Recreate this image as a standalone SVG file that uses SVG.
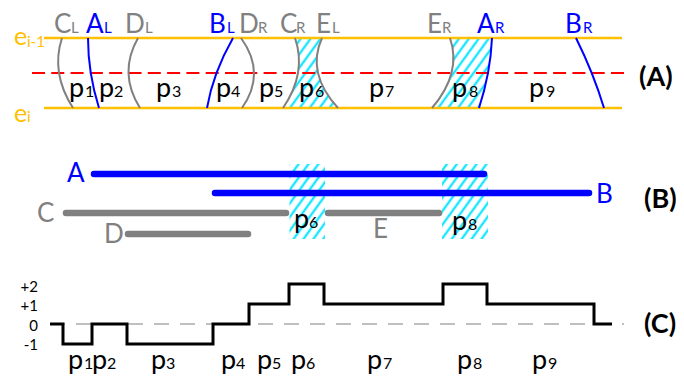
<svg xmlns="http://www.w3.org/2000/svg" width="684" height="377" viewBox="0 0 684 377">
<style>
text{font-family:Lato,"Liberation Sans",sans-serif}
.big{font-size:26px}
.sub{font-size:15px}
.ps{font-size:16px}
.p{font-size:27px;fill:#000}
.gt{fill:#808080}
.bt{fill:#0000FF}
.ot{fill:#FFC000}
.ax{font-size:15px;fill:#000;text-anchor:end}
.lab{font-size:27px;font-weight:bold;fill:#000}
.edge{stroke:#FFC000;stroke-width:2.5;fill:none}
.gc{stroke:#808080;stroke-width:2;fill:none}
.bc{stroke:#0000FF;stroke-width:2;fill:none}
.gb{stroke:#808080;stroke-width:6.5;stroke-linecap:round;fill:none}
.bb{stroke:#0000FF;stroke-width:6.5;stroke-linecap:round;fill:none}
</style>
<defs>
<pattern id="hatch" patternUnits="userSpaceOnUse" width="8" height="8" patternTransform="rotate(36)">
<line x1="2" y1="0" x2="2" y2="8" stroke="#1AE6FF" stroke-width="2.4"/>
</pattern>
</defs>

<g id="panelA">
<g id="hatchA">
<path d="M295,38 Q307,73 283,108 L338,108 Q306,73 322,38 Z" fill="url(#hatch)"/>
<path d="M450,38 Q462,73 432,108 L479,108 Q490.5,73 492,38 Z" fill="url(#hatch)"/>
</g>
<g id="edges">
<line class="edge" x1="44" y1="38" x2="622" y2="38"/>
<line class="edge" x1="44" y1="108" x2="622" y2="108"/>
<line x1="32" y1="73" x2="624" y2="73" stroke="#FF0000" stroke-width="2" stroke-dasharray="13 6.3"/>
<text x="14" y="45" class="ot" font-size="25">e<tspan x="27" dy="2" font-size="15">i-1</tspan></text>
<text x="14" y="122" class="ot" font-size="25">e<tspan x="27" font-size="15">i</tspan></text>
</g>
<g id="curves">
<path id="CL" class="gc" d="M62,38 Q50.5,73 73,108"/>
<path id="AL" class="bc" d="M88,38 Q88,73 99,108"/>
<path id="DL" class="gc" d="M138,38 Q118,73 140,108"/>
<path id="BL" class="bc" d="M233,38 Q213,73 207,108"/>
<path id="DR" class="gc" d="M241,38 Q266.5,73 242,108"/>
<path id="CR" class="gc" d="M295,38 Q307,73 283,108"/>
<path id="EL" class="gc" d="M322,38 Q306,73 338,108"/>
<path id="ER" class="gc" d="M450,38 Q462,73 432,108"/>
<path id="AR" class="bc" d="M492,38 Q490.5,73 479,108"/>
<path id="BR" class="bc" d="M576,38 Q593.4,73 604,108"/>
</g>
<g id="curveLabels" class="big">
<text x="54" y="33" class="gt">C<tspan x="71" class="sub">L</tspan></text>
<text x="86" y="33" class="bt">A<tspan x="104" class="sub">L</tspan></text>
<text x="125" y="33" class="gt">D<tspan x="145" class="sub">L</tspan></text>
<text x="209" y="33" class="bt">B<tspan x="227" class="sub">L</tspan></text>
<text x="239" y="33" class="gt">D<tspan x="258" class="sub">R</tspan></text>
<text x="280" y="33" class="gt">C<tspan x="296" class="sub">R</tspan></text>
<text x="316" y="33" class="gt">E<tspan x="332" class="sub">L</tspan></text>
<text x="427" y="33" class="gt">E<tspan x="442" class="sub">R</tspan></text>
<text x="477" y="33" class="bt">A<tspan x="495" class="sub">R</tspan></text>
<text x="565" y="33" class="bt">B<tspan x="583" class="sub">R</tspan></text>
</g>
<g id="pLabelsA">
<text class="p" x="69" y="97">p<tspan x="85" class="ps">1</tspan></text>
<text class="p" x="99" y="97">p<tspan x="114" class="ps">2</tspan></text>
<text class="p" x="156" y="97">p<tspan x="172" class="ps">3</tspan></text>
<text class="p" x="216" y="97">p<tspan x="231" class="ps">4</tspan></text>
<text class="p" x="259" y="97">p<tspan x="274" class="ps">5</tspan></text>
<text class="p" x="299" y="97">p<tspan x="315" class="ps">6</tspan></text>
<text class="p" x="369" y="97">p<tspan x="385" class="ps">7</tspan></text>
<text class="p" x="452" y="97">p<tspan x="469" class="ps">8</tspan></text>
<text class="p" x="529" y="97">p<tspan x="546" class="ps">9</tspan></text>
</g>
<text class="lab" x="639" y="86">(A)</text>
</g>

<g id="panelB">
<rect x="289.5" y="164" width="35.5" height="75" fill="url(#hatch)"/>
<rect x="442" y="164" width="46" height="75" fill="url(#hatch)"/>
<g id="segA"><line class="bb" x1="94" y1="174" x2="484" y2="174"/><text x="67" y="182" class="big bt">A</text></g>
<g id="segB"><line class="bb" x1="215" y1="193" x2="589" y2="193"/><text x="596" y="203" class="big bt">B</text></g>
<g id="segC"><line class="gb" x1="66" y1="213" x2="286" y2="213"/><text x="37" y="222" class="big gt">C</text></g>
<g id="segE"><line class="gb" x1="328" y1="213" x2="439" y2="213"/><text x="373" y="238" class="big gt">E</text></g>
<g id="segD"><line class="gb" x1="128" y1="234" x2="248" y2="234"/><text x="104" y="243" class="big gt">D</text></g>
<text class="p" x="294" y="228">p<tspan x="309" class="ps">6</tspan></text>
<text class="p" x="452" y="230">p<tspan x="468" class="ps">8</tspan></text>
<text class="lab" x="644" y="208">(B)</text>
</g>

<g id="panelC">
<line x1="50" y1="324" x2="624" y2="324" stroke="#BFBFBF" stroke-width="2" stroke-dasharray="15 11"/>
<path d="M50,324 H63 V344 H92 V324 H127 V344 H213 V324 H249 V304 H289 V284 H324 V304 H443 V284 H487 V304 H594 V324 H612" fill="none" stroke="#000" stroke-width="3"/>
<text class="ax" x="38" y="292">+2</text>
<text class="ax" x="38" y="311">+1</text>
<text class="ax" x="38" y="331">0</text>
<text class="ax" x="38" y="350">-1</text>
<g id="pLabelsC">
<text class="p" x="68" y="369">p<tspan x="84" class="ps">1</tspan></text>
<text class="p" x="92" y="369">p<tspan x="107" class="ps">2</tspan></text>
<text class="p" x="151" y="369">p<tspan x="166" class="ps">3</tspan></text>
<text class="p" x="221" y="369">p<tspan x="236" class="ps">4</tspan></text>
<text class="p" x="257" y="369">p<tspan x="272" class="ps">5</tspan></text>
<text class="p" x="291" y="369">p<tspan x="306" class="ps">6</tspan></text>
<text class="p" x="367" y="369">p<tspan x="383" class="ps">7</tspan></text>
<text class="p" x="457" y="369">p<tspan x="473" class="ps">8</tspan></text>
<text class="p" x="532" y="369">p<tspan x="548" class="ps">9</tspan></text>
</g>
<text class="lab" x="644" y="333">(C)</text>
</g>
</svg>
